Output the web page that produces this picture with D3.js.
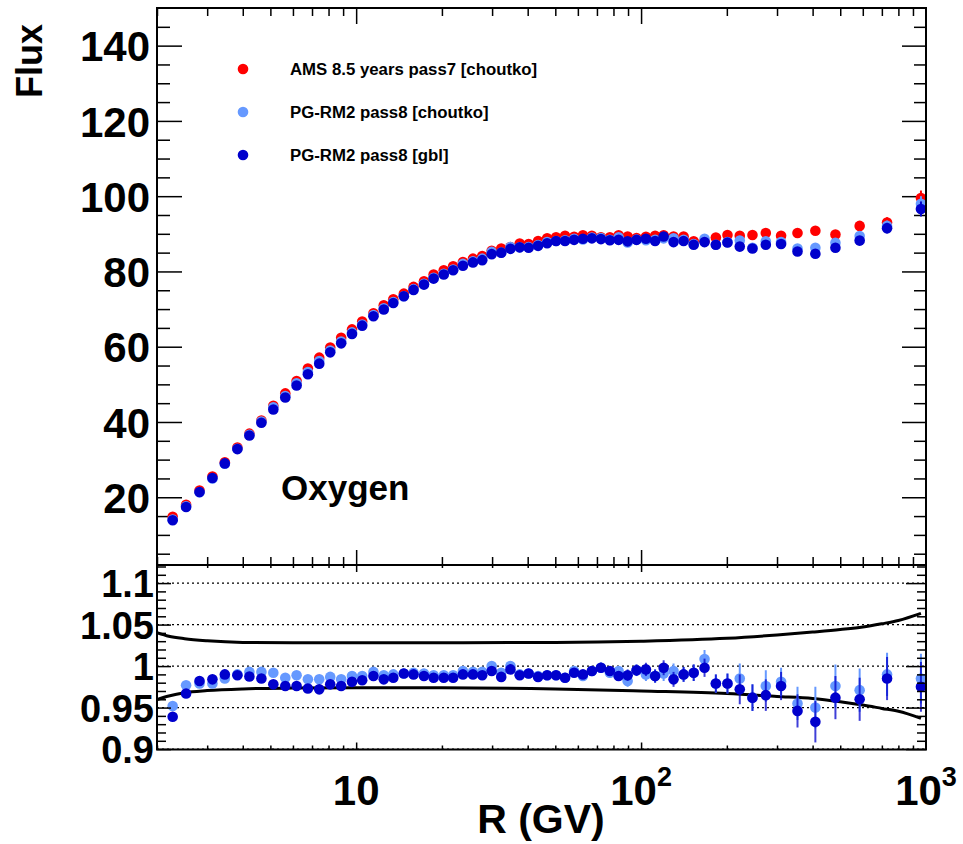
<!DOCTYPE html>
<html><head><meta charset="utf-8">
<script src="https://cdn.jsdelivr.net/npm/d3@7"></script>
<style>body{margin:0;background:#fff} svg{display:block}</style>
</head><body><svg id="c" width="963" height="844"></svg>
<script>
// ---------------- data ----------------
const rigidity = [2.27,2.53,2.82,3.13,3.46,3.83,4.22,4.65,5.12,5.64,
  6.18,6.77,7.42,8.11,8.86,9.67,10.5,11.5,12.5,13.5,
  14.7,15.9,17.3,18.7,20.3,21.9,23.7,25.7,27.7,29.9,
  32.3,34.8,37.5,40.3,43.5,46.8,50.3,54.1,58.2,62.5,
  67.2,72.3,77.7,83.4,89.7,96.4,104,112,120,130,
  141,153,167,183,201,222,246,274,310,354,
  409,481,585,730,960];

const fluxAMS = [14.8,18.0,21.8,25.5,29.3,33.2,36.9,40.4,44.3,47.6,
  50.9,54.2,57.1,59.8,62.4,64.6,66.7,68.9,71.0,72.6,
  74.1,75.9,77.4,79.2,80.3,81.4,82.5,83.4,84.1,85.5,
  86.1,86.5,87.4,87.3,88.1,88.8,89.1,89.5,89.2,89.6,
  89.5,89.1,89.1,89.6,89.3,88.9,89.2,89.5,89.6,89.3,
  89.3,88.0,88.0,89.0,89.7,89.5,89.7,90.2,89.5,90.2,
  90.8,89.8,92.1,93.0,99.5];

const fluxRM2Choutko = [14.1,17.6,21.3,25.0,28.9,32.9,36.6,40.1,43.9,46.9,
  50.3,53.3,56.2,59.0,61.4,63.8,65.9,68.4,70.2,71.9,
  73.4,75.3,76.7,78.3,79.4,80.5,82.0,82.7,83.4,85.2,
  85.0,86.5,86.4,86.5,87.0,87.8,88.1,88.3,88.7,88.5,
  89.0,88.9,88.4,89.1,87.7,88.5,88.3,88.4,88.8,88.8,
  88.4,87.3,88.7,87.1,87.8,88.2,86.3,88.0,87.8,86.1,
  86.3,87.6,89.4,92.1,98.0];

const fluxRM2Gbl = [13.9,17.4,21.4,25.1,29.0,32.8,36.4,39.8,43.3,46.5,
  49.7,52.7,55.5,58.5,60.9,63.4,65.6,68.1,69.9,71.6,
  73.4,75.1,76.5,78.1,79.2,80.3,81.5,82.4,83.0,84.6,
  85.0,86.0,86.4,86.3,86.8,87.5,88.1,88.1,88.4,88.7,
  88.8,88.6,88.3,88.4,88.0,88.4,88.7,88.1,89.3,87.8,
  88.1,87.1,87.8,87.1,87.7,86.6,86.1,87.1,87.3,85.3,
  84.7,86.3,88.2,91.5,96.6];

const fluxErr = [0.1,0.1,0.1,0.1,0.1,0.1,0.1,0.1,0.1,0.1,
  0.1,0.1,0.1,0.1,0.1,0.1,0.1,0.1,0.1,0.1,
  0.1,0.1,0.1,0.1,0.1,0.1,0.1,0.1,0.1,0.1,
  0.1,0.1,0.1,0.1,0.1,0.1,0.1,0.1,0.1,0.1,
  0.1,0.1,0.1,0.1,0.1,0.1,0.1,0.1,0.1,0.1,
  0.3,0.3,0.3,0.3,0.3,0.5,0.5,0.5,0.5,0.7,
  0.9,1.0,1.1,1.4,2.0];

const ratioChoutko = [0.952,0.977,0.979,0.979,0.985,0.990,0.993,0.993,0.992,0.986,
  0.989,0.984,0.984,0.987,0.984,0.988,0.988,0.993,0.989,0.990,
  0.991,0.992,0.991,0.989,0.989,0.989,0.994,0.993,0.993,1.000,
  0.992,1.000,0.990,0.991,0.988,0.989,0.989,0.986,0.994,0.988,
  0.994,0.998,0.992,0.994,0.982,0.995,0.990,0.988,0.991,0.994,
  0.990,0.992,1.0085,0.979,0.979,0.985,0.962,0.976,0.981,0.955,
  0.950,0.976,0.971,0.990,0.985];

const ratioGbl = [0.939,0.967,0.982,0.984,0.990,0.989,0.9875,0.985,0.978,0.976,
  0.976,0.973,0.972,0.978,0.976,0.981,0.983,0.988,0.984,0.986,
  0.991,0.990,0.988,0.986,0.986,0.986,0.990,0.990,0.989,0.994,
  0.987,0.996,0.989,0.991,0.987,0.989,0.989,0.986,0.992,0.990,
  0.994,0.998,0.994,0.988,0.989,0.995,0.996,0.988,0.998,0.984,
  0.990,0.992,0.998,0.979,0.979,0.972,0.962,0.965,0.976,0.946,
  0.933,0.962,0.960,0.985,0.975];

const ratioErr = [0.002,0.002,0.002,0.002,0.002,0.002,0.002,0.002,0.002,0.002,
  0.003,0.003,0.003,0.003,0.003,0.003,0.003,0.003,0.003,0.003,
  0.003,0.003,0.003,0.003,0.003,0.003,0.003,0.003,0.003,0.003,
  0.004,0.004,0.004,0.004,0.004,0.004,0.004,0.004,0.005,0.005,
  0.005,0.006,0.006,0.006,0.007,0.007,0.008,0.008,0.009,0.009,
  0.009,0.010,0.011,0.011,0.012,0.018,0.016,0.019,0.017,0.020,
  0.025,0.026,0.026,0.026,0.030];

const bandR     = [2.0, 2.2, 2.5, 3, 4, 6, 10, 20, 50, 100, 200, 300, 400, 500, 600, 700, 800, 960];
const bandUpper = [1.0403,1.036,1.033,1.0305,1.0285,1.028,1.028,1.0282,1.0285,1.030,1.0335,1.0375,1.041,1.044,1.047,1.051,1.055,1.0635];
const bandLower = [0.9597,0.964,0.968,0.9705,0.9725,0.9735,0.974,0.974,0.9725,0.970,0.967,0.9635,0.961,0.957,0.953,0.949,0.9455,0.937];

const yTicksTop = [20,40,60,80,100,120,140];
const yTicksBot = [0.9,0.95,1,1.05,1.1];
const yTickLabelsBot = ["0.9","0.95","1","1.05","1.1"];
const xTicks = [10,100,1000];
const xTickBase = ["10","10","10"];
const xTickExp = ["","2","3"];

const seriesNames = ["AMS 8.5 years pass7 [choutko]","PG-RM2 pass8 [choutko]","PG-RM2 pass8 [gbl]"];
const seriesColors = ["#ff0000","#6699ff","#0000cc"];

// ---------------- layout ----------------
const FONT = "'Liberation Sans', Arial, Helvetica, sans-serif";
const L = 157, R = 926, T1 = 8, B1 = 565, T2 = 565, B2 = 749.5;
const svg = d3.select("#c");

const x = d3.scaleLog().domain([2,1000]).range([L,R]);
const yTop = d3.scaleLinear().domain([2,150]).range([B1,T1]);
const yBot = d3.scaleLinear().domain([0.8995,1.1218]).range([B2,T2]);

const xMinor = [];
[1,10,100].forEach(dec => { for (let k=2;k<=9;k++){ const v=k*dec; if (v>2 && v<1000) xMinor.push(v);} });
xMinor.push(2);
const yMinorTop = d3.range(5,150,5).filter(v => v%20!==0);
const yMinorBot = d3.range(90,113,1).map(v=>v/100).filter(v => Math.round(v*100)%5!==0);

const defs = svg.append("defs");
defs.append("clipPath").attr("id","clipTop").append("rect").attr("x",L).attr("y",T1).attr("width",R-L).attr("height",B1-T1);
defs.append("clipPath").attr("id","clipBot").append("rect").attr("x",L).attr("y",T2).attr("width",R-L).attr("height",B2-T2);

function styleAxis(g){
  g.select(".domain").remove();
  g.selectAll(".tick line").attr("stroke","#000").attr("stroke-width",1.5);
}
function ax(gen, tr, vals, size, fmt){
  const g = svg.append("g").attr("transform",tr)
    .call(gen.tickValues(vals).tickSize(size).tickFormat(fmt || (()=>"")));
  styleAxis(g);
  return g;
}

// ---------- bottom panel gridlines ----------
const gBot = svg.append("g").attr("clip-path","url(#clipBot)");
gBot.selectAll("line.grid").data(yTicksBot).enter().append("line")
  .attr("x1",L).attr("x2",R).attr("y1",d=>yBot(d)).attr("y2",d=>yBot(d))
  .attr("stroke","#000").attr("stroke-width",1.2).attr("stroke-dasharray","2,3");

// ---------- top panel ticks ----------
ax(d3.axisLeft(yTop), `translate(${L},0)`, yTicksTop, -25, d=>d)
  .selectAll("text").attr("font-family",FONT).attr("font-weight","bold").attr("font-size",42)
  .attr("fill","#000").attr("x",-7).attr("dy","0.36em");
ax(d3.axisLeft(yTop), `translate(${L},0)`, yMinorTop, -13);
ax(d3.axisRight(yTop), `translate(${R},0)`, yTicksTop, -24);
ax(d3.axisRight(yTop), `translate(${R},0)`, yMinorTop, -12);
ax(d3.axisTop(x), `translate(0,${T1})`, [10,100], -16);
ax(d3.axisTop(x), `translate(0,${T1})`, xMinor, -8);
ax(d3.axisBottom(x), `translate(0,${B1})`, [10,100], -15);
ax(d3.axisBottom(x), `translate(0,${B1})`, xMinor, -8);

// ---------- bottom panel ticks ----------
ax(d3.axisLeft(yBot), `translate(${L},0)`, yTicksBot, -14, (d,i)=>yTickLabelsBot[i])
  .selectAll("text").attr("font-family",FONT).attr("font-weight","bold").attr("font-size",38)
  .attr("fill","#000").attr("x",-3).attr("dy","0.36em");
ax(d3.axisLeft(yBot), `translate(${L},0)`, yMinorBot, -9);
ax(d3.axisRight(yBot), `translate(${R},0)`, yTicksBot, -20);
ax(d3.axisRight(yBot), `translate(${R},0)`, yMinorBot, -9);
ax(d3.axisTop(x), `translate(0,${T2})`, [10,100], -7);
ax(d3.axisTop(x), `translate(0,${T2})`, xMinor, -3);
ax(d3.axisBottom(x), `translate(0,${B2})`, [10,100], -7);
ax(d3.axisBottom(x), `translate(0,${B2})`, xMinor, -4);

// x tick labels
xTicks.forEach((v,i) => {
  const t = svg.append("text").attr("x",x(v)).attr("y",805).attr("text-anchor","middle")
    .attr("font-family",FONT).attr("font-weight","bold").attr("font-size",42).attr("fill","#000");
  t.append("tspan").text(xTickBase[i]);
  if (xTickExp[i]) t.append("tspan").attr("font-size",27).attr("dy",-19).text(xTickExp[i]);
});

// ---------- top panel data ----------
const gTop = svg.append("g").attr("clip-path","url(#clipTop)");
const fluxSeries = [fluxAMS, fluxRM2Choutko, fluxRM2Gbl];
fluxSeries.forEach((vals, s) => {
  const g = gTop.append("g");
  g.selectAll("line").data(vals).enter().append("line")
    .attr("x1",(d,i)=>x(rigidity[i])).attr("x2",(d,i)=>x(rigidity[i]))
    .attr("y1",(d,i)=>yTop(d-fluxErr[i])).attr("y2",(d,i)=>yTop(d+fluxErr[i]))
    .attr("stroke",seriesColors[s]).attr("stroke-width",2);
  g.selectAll("circle").data(vals).enter().append("circle")
    .attr("cx",(d,i)=>x(rigidity[i])).attr("cy",d=>yTop(d)).attr("r",5.3)
    .attr("fill",seriesColors[s]);
});

// ---------- bottom panel data ----------
const line = d3.line().x(d=>x(d[0])).y(d=>yBot(d[1])).curve(d3.curveMonotoneX);
[bandUpper, bandLower].forEach(b => {
  gBot.append("path").attr("d", line(bandR.map((r,i)=>[r,b[i]])))
    .attr("fill","none").attr("stroke","#000").attr("stroke-width",3);
});
[ratioChoutko, ratioGbl].forEach((vals, k) => {
  const col = seriesColors[k+1];
  const g = gBot.append("g");
  g.selectAll("line").data(vals).enter().append("line")
    .attr("x1",(d,i)=>x(rigidity[i])).attr("x2",(d,i)=>x(rigidity[i]))
    .attr("y1",(d,i)=>yBot(d-ratioErr[i])).attr("y2",(d,i)=>yBot(d+ratioErr[i]))
    .attr("stroke",col).attr("stroke-width",2).attr("opacity",k===1?0.75:1);
  g.selectAll("circle").data(vals).enter().append("circle")
    .attr("cx",(d,i)=>x(rigidity[i])).attr("cy",d=>yBot(d)).attr("r",5.3)
    .attr("fill",col);
});

// ---------- frames ----------
svg.append("rect").attr("x",L).attr("y",T1).attr("width",R-L).attr("height",B1-T1)
  .attr("fill","none").attr("stroke","#000").attr("stroke-width",2);
svg.append("rect").attr("x",L).attr("y",T2).attr("width",R-L).attr("height",B2-T2)
  .attr("fill","none").attr("stroke","#000").attr("stroke-width",2);

// ---------- legend ----------
const legY = [69,112,155];
seriesNames.forEach((n,i) => {
  svg.append("circle").attr("cx",243).attr("cy",legY[i]).attr("r",5.3).attr("fill",seriesColors[i]);
  svg.append("text").attr("x",290).attr("y",legY[i]).attr("dy","0.35em")
    .attr("font-family",FONT).attr("font-weight","bold").attr("font-size",16.8).attr("fill","#000").text(n);
});

// ---------- titles ----------
svg.append("text").attr("x",281).attr("y",500)
  .attr("font-family",FONT).attr("font-weight","bold").attr("font-size",35).attr("fill","#000").text("Oxygen");
svg.append("text").attr("transform","translate(42,61) rotate(-90)").attr("text-anchor","middle")
  .attr("font-family",FONT).attr("font-weight","bold").attr("font-size",36).attr("fill","#000").text("Flux");
svg.append("text").attr("x",541).attr("y",833).attr("text-anchor","middle")
  .attr("font-family",FONT).attr("font-weight","bold").attr("font-size",41).attr("fill","#000").text("R (GV)");
</script>
</body></html>
